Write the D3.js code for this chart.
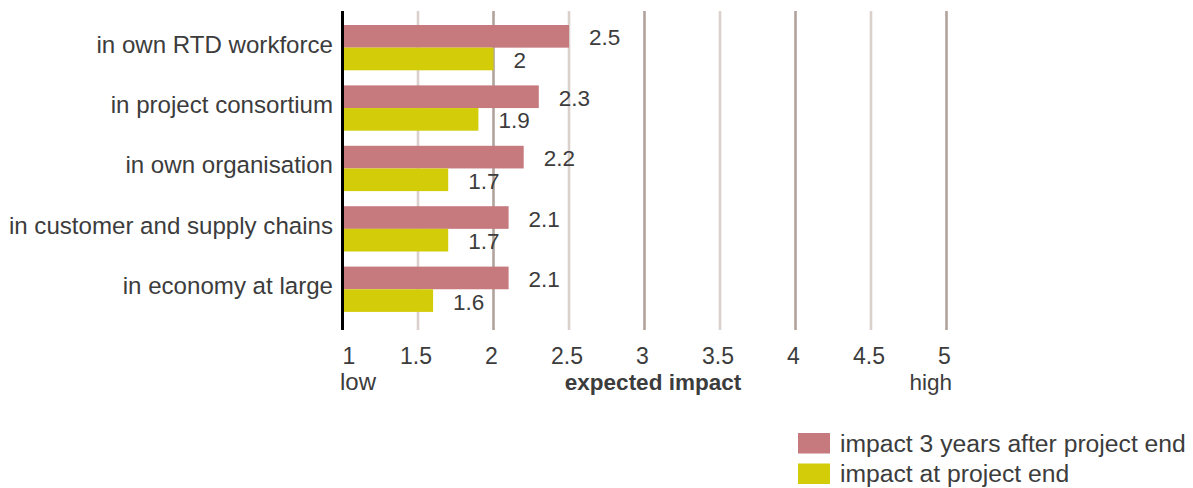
<!DOCTYPE html>
<html>
<head>
<meta charset="utf-8">
<script src="https://cdn.jsdelivr.net/npm/d3@7"></script>
<style>
  html, body { margin: 0; padding: 0; background: #ffffff; }
  svg { display: block; font-family: "Liberation Sans", Arial, sans-serif; }
</style>
</head>
<body>
<svg id="chart" width="1193" height="488"></svg>
<script>
// Categories (top to bottom)
const categories = [
  "in own RTD workforce",
  "in project consortium",
  "in own organisation",
  "in customer and supply chains",
  "in economy at large"
];
// Expected impact three years after the project ends
const impactAfter3Years = [2.5, 2.3, 2.2, 2.1, 2.1];
// Expected impact at the end of the project
const impactAtEnd = [2.0, 1.9, 1.7, 1.7, 1.6];
// Axis ticks
const tickValues = [1, 1.5, 2, 2.5, 3, 3.5, 4, 4.5, 5];
const tickLabels = ["1", "1.5", "2", "2.5", "3", "3.5", "4", "4.5", "5"];
const seriesNames = ["impact 3 years after project end", "impact at project end"];

const colors = ["#c67a7e", "#d2cd08"];
const textColor = "#3c3c3c";

const svg = d3.select("#chart");

const x = d3.scaleLinear().domain([1, 5]).range([342.5, 946.5]);
const y = d3.scaleBand()
  .domain(categories)
  .range([17.45, 319.45])
  .paddingInner(0.25)
  .paddingOuter(0.125);
const sub = d3.scaleBand().domain([0, 1]).range([0, y.bandwidth()]);

const plotTop = 11, plotBottom = 330;

// Vertical gridlines: whole numbers darker, halves lighter
svg.append("g")
  .selectAll("line")
  .data(tickValues.slice(1))
  .join("line")
  .attr("x1", d => x(d)).attr("x2", d => x(d))
  .attr("y1", plotTop).attr("y2", plotBottom)
  .attr("stroke", d => Number.isInteger(d) ? "#b1a39c" : "#dad1cc")
  .attr("stroke-width", 2.6);

// Bars
const rows = categories.map((c, i) => ({
  cat: c,
  vals: [impactAfter3Years[i], impactAtEnd[i]]
}));

const groups = svg.append("g").selectAll("g")
  .data(rows)
  .join("g")
  .attr("transform", d => `translate(0,${y(d.cat)})`);

groups.selectAll("rect")
  .data(d => d.vals.map((v, k) => ({ v, k })))
  .join("rect")
  .attr("x", x(1))
  .attr("y", d => sub(d.k))
  .attr("width", d => x(d.v) - x(1))
  .attr("height", sub.bandwidth())
  .attr("fill", d => colors[d.k]);

// Value labels
const fmt = v => (Number.isInteger(v) ? d3.format("d")(v) : d3.format(".1f")(v));
groups.selectAll("text.val")
  .data(d => d.vals.map((v, k) => ({ v, k })))
  .join("text")
  .attr("class", "val")
  .attr("x", d => x(d.v) + 20)
  .attr("y", d => sub(d.k) + sub.bandwidth() / 2 + 9)
  .attr("font-size", 22.5)
  .attr("fill", textColor)
  .text(d => fmt(d.v));

// Category labels
svg.append("g").selectAll("text")
  .data(categories)
  .join("text")
  .attr("x", 333)
  .attr("y", d => y(d) + y.bandwidth() / 2 + 5)
  .attr("text-anchor", "end")
  .attr("font-size", 24.1)
  .attr("fill", textColor)
  .text(d => d);

// Axis line
svg.append("line")
  .attr("x1", x(1)).attr("x2", x(1))
  .attr("y1", plotTop).attr("y2", plotBottom)
  .attr("stroke", "#000")
  .attr("stroke-width", 3);

// Tick labels
svg.append("g").selectAll("text")
  .data(tickValues)
  .join("text")
  .attr("x", (d, i) => i === 0 ? x(d) : x(d) - 2)
  .attr("y", 363.5)
  .attr("text-anchor", (d, i) => i === 0 ? "start" : "middle")
  .attr("font-size", 23)
  .attr("fill", textColor)
  .text((d, i) => tickLabels[i]);

// Axis title and scale ends
svg.append("text")
  .attr("x", 340).attr("y", 390)
  .attr("font-size", 24)
  .attr("fill", textColor)
  .text("low");
svg.append("text")
  .attr("x", 653).attr("y", 390)
  .attr("text-anchor", "middle")
  .attr("font-size", 22.5)
  .attr("font-weight", "bold")
  .attr("fill", textColor)
  .text("expected impact");
svg.append("text")
  .attr("x", 952).attr("y", 390)
  .attr("text-anchor", "end")
  .attr("font-size", 22.5)
  .attr("fill", textColor)
  .text("high");

// Legend
const legend = svg.append("g").attr("transform", "translate(798,433)");
const items = legend.selectAll("g")
  .data(seriesNames)
  .join("g")
  .attr("transform", (d, i) => `translate(0,${i * 30.5})`);
items.append("rect")
  .attr("width", 32).attr("height", 20.5)
  .attr("fill", (d, i) => colors[i]);
items.append("text")
  .attr("x", 42).attr("y", 18.5)
  .attr("font-size", 24.7)
  .attr("fill", textColor)
  .text(d => d);
</script>
</body>
</html>
